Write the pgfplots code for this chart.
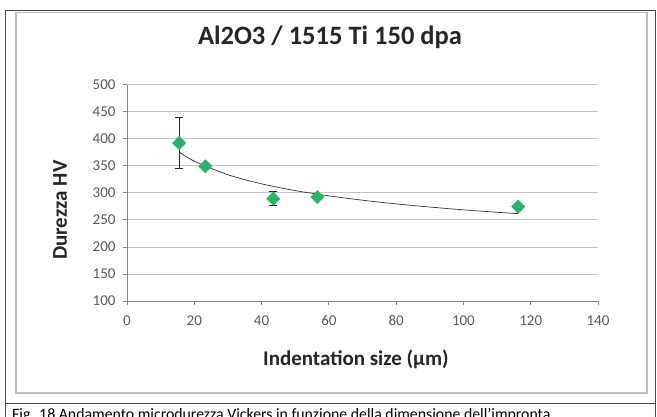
\documentclass[border=0pt]{standalone}
\usepackage{fontspec}
\setmainfont{Carlito}
\usepackage{pgfplots}
\pgfplotsset{compat=1.18}

\definecolor{ptgreen}{RGB}{44,178,104}
\definecolor{gridgray}{RGB}{196,196,196}
\definecolor{axisgray}{RGB}{134,134,134}
\definecolor{ticktext}{RGB}{89,89,89}
\definecolor{framegray}{RGB}{190,190,190}
\definecolor{outer}{RGB}{70,70,70}

\begin{document}
\begin{tikzpicture}[x=1pt,y=1pt]
  \useasboundingbox (0,0) rectangle (657,416);
  \clip (0,0) rectangle (657,416);

  % table cell and chart area frames
  \draw[outer, line width=1pt] (5.5,-5) -- (5.5,405) -- (655.5,405) -- (655.5,-5);
  \draw[outer, line width=1pt] (5.5,13) -- (655.5,13);
  \draw[framegray, line width=1.2pt] (16,23) rectangle (647,403.5);

  \begin{axis}[
      at={(127pt,115pt)}, anchor=origin,
      scale only axis,
      width=471pt, height=216.4pt,
      xmin=0, xmax=140, ymin=100, ymax=500,
      xtick={0,20,...,140},
      ytick={100,150,...,500},
      axis x line=bottom, axis y line=left,
      axis line style={-, axisgray, line width=0.8pt},
      tick style={axisgray, line width=0.8pt},
      tick align=outside,
      major tick length=4pt,
      ymajorgrids,
      grid style={gridgray, line width=0.8pt},
      ticklabel style={font=\fontsize{15}{17}\selectfont, text=ticktext},
      xticklabel style={yshift=-7pt},
      yticklabel style={xshift=-4pt},
      /pgf/number format/assume math mode=true,
      xlabel={Indentation size (µm)},
      ylabel={Durezza HV},
      label style={font=\fontsize{21}{24}\selectfont\bfseries, text=black!85},
      xlabel style={at={(axis description cs:0.486,-0.268)}, anchor=center},
      ylabel style={at={(axis description cs:-0.142,0.42)}, anchor=center, rotate=0},
      clip=false,
    ]
    % power trendline
    \addplot[black!80, line width=0.7pt, smooth] coordinates {
      (15.5,375.5) (20,358.5) (30,333.4) (40,316.6) (50,304.1) (60,294.4)
      (70,286.3) (80,279.5) (90,273.7) (100,268.5) (110,264.0) (116.3,261.5)
    };
    % measurements
    \addplot[only marks, mark=square*, mark size=4.7pt,
      mark options={rotate=45, fill=ptgreen, draw=ptgreen},
      error bars/.cd, y dir=both, y explicit,
      error bar style={black!85, line width=1pt},
      error mark options={black!85, line width=1pt, mark size=4pt, rotate=90}]
      coordinates {
      (15.5,392) +- (0,47)
      (23.3,349) +- (0,0)
      (43.5,289) +- (0,13)
      (56.6,292) +- (0,0)
      (116.3,274.5) +- (0,0)
    };
  \end{axis}

  \node[font=\fontsize{26.5}{30}\selectfont\bfseries, text=black!85] at (330,379) {Al2O3 / 1515 Ti 150 dpa};
  \node[font=\fontsize{15.8}{18}\selectfont, anchor=base west, inner sep=0pt] at (12,-3.5)
    {Fig. 18 Andamento microdurezza Vickers in funzione della dimensione dell’impronta};
\end{tikzpicture}
\end{document}
